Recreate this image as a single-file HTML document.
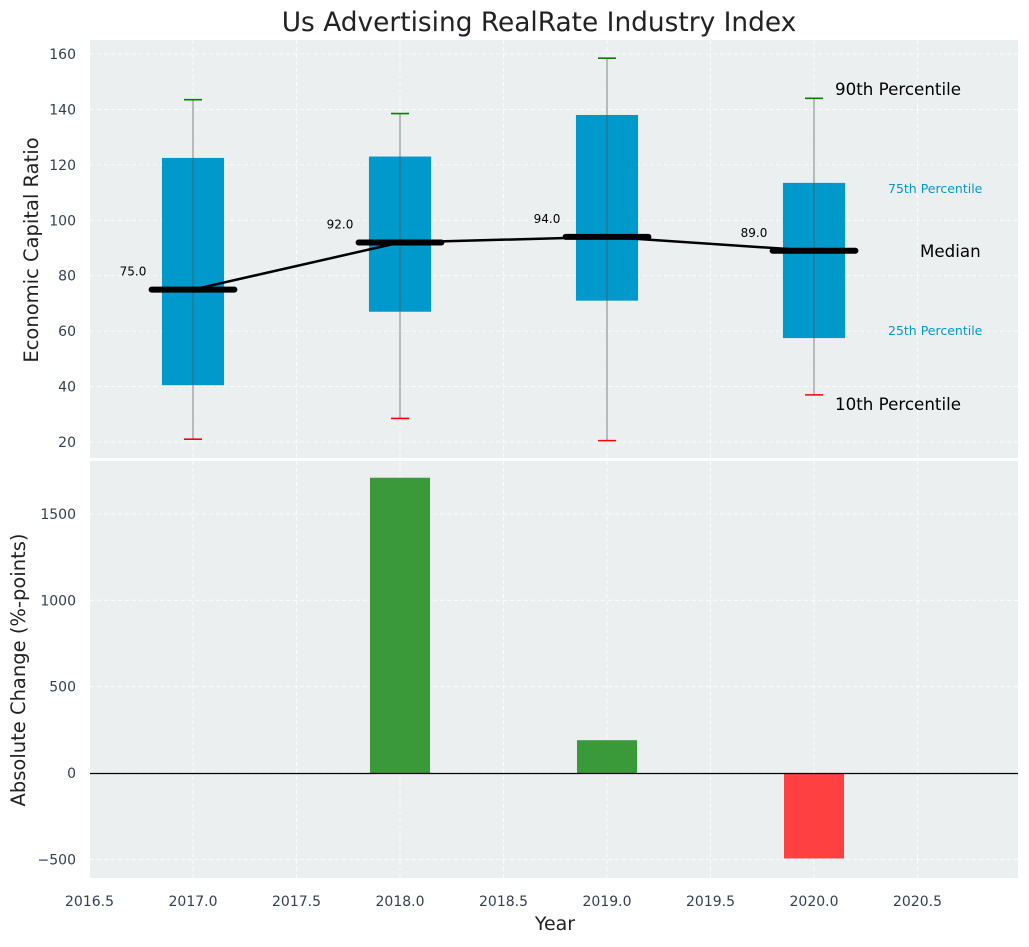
<!DOCTYPE html>
<html><head><meta charset="utf-8"><style>
body{margin:0;background:#fff;font-family:"Liberation Sans","DejaVu Sans",sans-serif}
svg text{font-family:"DejaVu Sans","Liberation Sans",sans-serif}
</style></head><body>
<svg id="c" width="1029" height="942" xmlns="http://www.w3.org/2000/svg"></svg>
<script>
const years=[2017,2018,2019,2020];
const q1=[40.5,67,71,57.5];
const q3=[122.5,123,138,113.5];
const med=[75,92,94,89];
const p10=[21,28.5,20.5,37];
const p90=[143.5,138.5,158.5,144];
const changes=[0,1710,190,-495];
const xTicks=[2016.5,2017,2017.5,2018,2018.5,2019,2019.5,2020,2020.5];
const yTopTicks=[20,40,60,80,100,120,140,160];
const yBotTicks=[-500,0,500,1000,1500];

const L=90,R=1018,T1=40,B1=458,T2=461,B2=878;
const X=v=>193+(v-2017)*207;
const Y1=v=>442-(v-20)*(388/140);
const Y2=v=>773-v*(259/1500);
const NS="http://www.w3.org/2000/svg";
const svg=document.getElementById('c');
function el(t,a,txt){const e=document.createElementNS(NS,t);for(const k in a)e.setAttribute(k,a[k]);if(txt!==undefined)e.textContent=txt;svg.appendChild(e);return e;}

let e;
e=el('rect',{x:L,y:T1,width:R-L,height:B1-T1,fill:'#ebeff0'});


e=el('rect',{x:L,y:T2,width:R-L,height:B2-T2,fill:'#ebeff0'});



xTicks.forEach(t=>{
 el('line',{x1:X(t),x2:X(t),y1:T1,y2:B1,stroke:'#fff','stroke-dasharray':'4,3','stroke-width':0.8});
 el('line',{x1:X(t),x2:X(t),y1:T2,y2:B2,stroke:'#fff','stroke-dasharray':'4,3','stroke-width':0.8});
 e=el('text',{x:X(t),y:906,'text-anchor':'middle','font-size':14,fill:'#333f4f'},t.toFixed(1));
 
 
});
yTopTicks.forEach(t=>{
 el('line',{x1:L,x2:R,y1:Y1(t),y2:Y1(t),stroke:'#fff','stroke-dasharray':'4,3','stroke-width':0.8});
 e=el('text',{x:76,y:Y1(t)+5,'text-anchor':'end','font-size':14,fill:'#333f4f'},t);
 
 
});
yBotTicks.forEach(t=>{
 el('line',{x1:L,x2:R,y1:Y2(t),y2:Y2(t),stroke:'#fff','stroke-dasharray':'4,3','stroke-width':0.8});
 e=el('text',{x:76,y:Y2(t)+5,'text-anchor':'end','font-size':14,fill:'#333f4f'},t<0?'\u2212'+(-t):t);
 
 
});

years.forEach((yr,i)=>{
 const x=X(yr),w=0.3*207;
 e=el('rect',{x:x-w/2,y:Y1(q3[i]),width:w,height:Y1(q1[i])-Y1(q3[i]),fill:'#0099cc'});
 
 
 el('line',{x1:x,x2:x,y1:Y1(p90[i]),y2:Y1(p10[i]),stroke:'#555','stroke-width':1,opacity:0.7});
 e=el('line',{x1:x-9,x2:x+9,y1:Y1(p90[i]),y2:Y1(p90[i]),stroke:'green','stroke-width':1.6});
 
 
 e=el('line',{x1:x-9,x2:x+9,y1:Y1(p10[i]),y2:Y1(p10[i]),stroke:'red','stroke-width':1.6});
 
 
});
e=el('polyline',{points:years.map((y,i)=>X(y)+','+Y1(med[i])).join(' '),fill:'none',stroke:'#000','stroke-width':2.5});


years.forEach((yr,i)=>{
 const x=X(yr);
 e=el('line',{x1:x-0.2*207,x2:x+0.2*207,y1:Y1(med[i]),y2:Y1(med[i]),stroke:'#000','stroke-width':6,'stroke-linecap':'round'});
 
 
 e=el('text',{x:x-0.29*207,y:Y1(med[i])-14,'text-anchor':'middle','font-size':12,fill:'#000'},med[i].toFixed(1));
 
 
});
[['90th Percentile',835,95,16.7,'#000'],['75th Percentile',888,193,12.5,'#0099cc'],['Median',920,257,16.7,'#000'],['25th Percentile',888,335,12.5,'#0099cc'],['10th Percentile',835,410,16.7,'#000']].forEach(a=>{
 e=el('text',{x:a[1],y:a[2],'font-size':a[3],fill:a[4]},a[0]);
 
 
});

years.forEach((yr,i)=>{
 const v=changes[i]; if(v===0)return;
 const w=0.29*207;
 e=el('rect',{x:X(yr)-w/2,y:Math.min(Y2(v),Y2(0)),width:w,height:Math.abs(Y2(v)-Y2(0)),fill:v>0?'#3a9a3a':'#ff4040'});
 
 
});
e=el('line',{x1:L,x2:R,y1:Math.round(Y2(0))+0.5,y2:Math.round(Y2(0))+0.5,stroke:'#000','stroke-width':1.2});



e=el('text',{x:539,y:31,'text-anchor':'middle','font-size':26.4,fill:'#222'},'Us Advertising RealRate Industry Index');


e=el('text',{x:555,y:930,'text-anchor':'middle','font-size':19,fill:'#222'},'Year');


e=el('text',{x:38,y:250,'text-anchor':'middle','font-size':19.5,fill:'#222',transform:'rotate(-90 38 250)'},'Economic Capital Ratio');


e=el('text',{x:25,y:670,'text-anchor':'middle','font-size':19.5,fill:'#222',transform:'rotate(-90 25 670)'},'Absolute Change (%-points)');


</script>
</body></html>
